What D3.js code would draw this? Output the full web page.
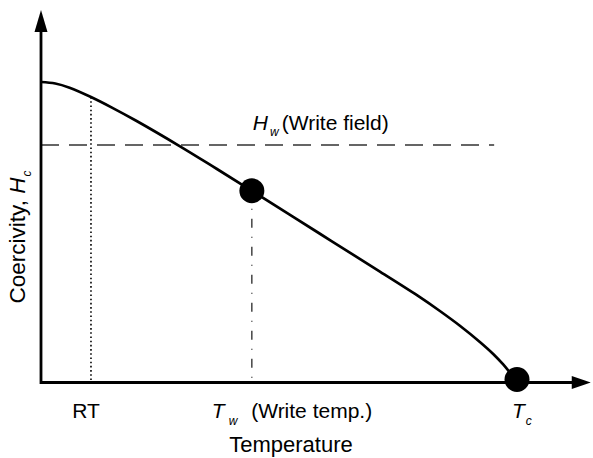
<!DOCTYPE html>
<html>
<head>
<meta charset="utf-8">
<script src="https://cdn.jsdelivr.net/npm/d3@7"></script>
<style>
  html, body { margin: 0; padding: 0; background: #fff; }
  svg { display: block; }
  text { font-family: "Liberation Sans", Arial, sans-serif; fill: #000; }
</style>
</head>
<body>
<svg id="chart" width="593" height="458"></svg>
<script>
// ---- data (arbitrary units: temperature 0..100 with Tc = 100, coercivity 0..100) ----
const temperature = [0, 3, 6, 10.5, 15, 20, 29.2, 36, 44.3, 58.6, 71.2, 79.6, 83.8, 88.0, 92.2, 95.0, 97.1, 98.5, 100];
const coercivity  = [100, 99.5, 98.1, 95.0, 91.4, 87.1, 78.6, 72.0, 63.8, 49.5, 36.9, 28.4, 23.8, 18.9, 13.5, 9.5, 6.0, 3.3, 0.2];
const markTemps   = { RT: 10.5, Tw: 44.3, Tc: 100 };
const markPoints  = [ { t: 44.3, h: 63.8 }, { t: 100, h: 1.0 } ];
const writeField  = 79.0;
const writeFieldEnd = 95.2;
const xAxisMax = 115.5;   // arrow tip
const yAxisMax = 124;     // arrow tip

const svg = d3.select("#chart");
const x = d3.scaleLinear().domain([0, 100]).range([41, 517]);
const y = d3.scaleLinear().domain([0, 100]).range([382.5, 82]);

const pts = temperature.map((t, i) => ({ t, h: coercivity[i] }));

// guide lines
svg.append("line")
  .attr("x1", x(0)).attr("x2", x(writeFieldEnd))
  .attr("y1", y(writeField)).attr("y2", y(writeField))
  .attr("stroke", "#333").attr("stroke-width", 1.5)
  .attr("stroke-dasharray", "18,10");

svg.append("line")
  .attr("x1", x(markTemps.RT)).attr("x2", x(markTemps.RT))
  .attr("y1", y(95)).attr("y2", y(0))
  .attr("stroke", "#000").attr("stroke-width", 1.6)
  .attr("stroke-dasharray", "1.6,2.6");

svg.append("line")
  .attr("x1", x(markTemps.Tw)).attr("x2", x(markTemps.Tw))
  .attr("y1", y(63.8)).attr("y2", y(0))
  .attr("stroke", "#000").attr("stroke-width", 1.1)
  .attr("stroke-dasharray", "9,9,1,9");

// curve
const line = d3.line().x(d => x(d.t)).y(d => y(d.h)).curve(d3.curveCatmullRom.alpha(0.5));
svg.append("path").datum(pts)
  .attr("d", line)
  .attr("fill", "none").attr("stroke", "#000").attr("stroke-width", 2.7);

// axes
const axisW = 2.8;
svg.append("line")
  .attr("x1", x(0)).attr("x2", x(xAxisMax) - 16)
  .attr("y1", y(0)).attr("y2", y(0))
  .attr("stroke", "#000").attr("stroke-width", axisW);
svg.append("line")
  .attr("x1", x(0)).attr("x2", x(0))
  .attr("y1", y(0) + axisW / 2).attr("y2", y(yAxisMax) + 18)
  .attr("stroke", "#000").attr("stroke-width", axisW);

// arrowheads
const xt = x(xAxisMax), yt = y(0);
svg.append("path")
  .attr("d", `M${xt},${yt} L${xt - 19},${yt - 6.5} L${xt - 19},${yt + 6.5} Z`)
  .attr("fill", "#000");
const ax = x(0), ay = y(yAxisMax);
svg.append("path")
  .attr("d", `M${ax},${ay} L${ax - 6.5},${ay + 22} L${ax + 6.5},${ay + 22} Z`)
  .attr("fill", "#000");

// points
svg.selectAll("circle.pt").data(markPoints).enter().append("circle")
  .attr("class", "pt")
  .attr("cx", d => x(d.t)).attr("cy", d => y(d.h)).attr("r", 12.5)
  .attr("fill", "#000");

// labels
const fs = 21, sub = 12;
svg.append("text")
  .attr("x", x(markTemps.RT) - 5).attr("y", 418)
  .attr("text-anchor", "middle").attr("font-size", fs)
  .text("RT");

const tw = svg.append("text")
  .attr("x", x(markTemps.Tw) - 40).attr("y", 418)
  .attr("font-size", fs);
tw.append("tspan").attr("font-style", "italic").text("T");
tw.append("tspan").attr("font-style", "italic").attr("font-size", sub)
  .attr("dx", 4).attr("dy", 7).text("w");
tw.append("tspan").attr("dx", 8).attr("dy", -7).text(" (Write temp.)");

const tc = svg.append("text")
  .attr("x", x(markTemps.Tc) - 5).attr("y", 418)
  .attr("font-size", fs);
tc.append("tspan").attr("font-style", "italic").text("T");
tc.append("tspan").attr("font-style", "italic").attr("font-size", sub)
  .attr("dx", 1).attr("dy", 7).text("c");

const hw = svg.append("text")
  .attr("x", x(markTemps.Tw) + 1).attr("y", 130)
  .attr("font-size", fs);
hw.append("tspan").attr("font-style", "italic").text("H");
hw.append("tspan").attr("font-style", "italic").attr("font-size", sub)
  .attr("dx", 2).attr("dy", 6).text("w");
hw.append("tspan").attr("dx", 3).attr("dy", -6).text("(Write field)");

svg.append("text")
  .attr("x", 291).attr("y", 452)
  .attr("text-anchor", "middle").attr("font-size", 22)
  .text("Temperature");

const yl = svg.append("text")
  .attr("transform", "translate(25,237) rotate(-90)")
  .attr("text-anchor", "middle").attr("font-size", 22.5);
yl.append("tspan").text("Coercivity, ");
yl.append("tspan").attr("font-style", "italic").text("H");
yl.append("tspan").attr("font-style", "italic").attr("font-size", sub)
  .attr("dx", 1).attr("dy", 6).text("c");
</script>
</body>
</html>
